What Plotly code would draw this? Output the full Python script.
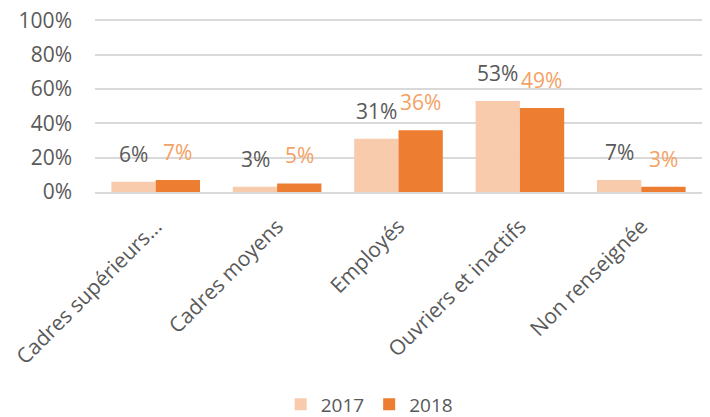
import plotly.graph_objects as go

categories = ["Cadres supérieurs...", "Cadres moyens", "Employés", "Ouvriers et inactifs", "Non renseignée"]
values_2017 = [0.06, 0.03, 0.31, 0.53, 0.07]
values_2018 = [0.07, 0.05, 0.36, 0.49, 0.03]
labels_2017 = ["6%", "3%", "31%", "53%", "7%"]
labels_2018 = ["7%", "5%", "36%", "49%", "3%"]
y_ticks = [0, 0.2, 0.4, 0.6, 0.8, 1.0]
y_tick_labels = ["0%", "20%", "40%", "60%", "80%", "100%"]

FONT = "Open Sans"
GREY = "#595959"

fig = go.Figure()
fig.add_trace(go.Bar(x=categories, y=values_2017, name="2017",
                     marker=dict(color="#F8CBAD", line=dict(width=0))))
fig.add_trace(go.Bar(x=categories, y=values_2018, name="2018",
                     marker=dict(color="#ED7D31", line=dict(width=0))))

for c, v, t in zip(categories, values_2017, labels_2017):
    fig.add_annotation(x=c, y=v, text=t, showarrow=False, xref="x", yref="y",
                       xshift=-22, yshift=28, font=dict(family=FONT, size=21, color=GREY))
for c, v, t in zip(categories, values_2018, labels_2018):
    fig.add_annotation(x=c, y=v, text=t, showarrow=False, xref="x", yref="y",
                       xshift=22, yshift=28, font=dict(family=FONT, size=21, color="#F4A164"))

fig.update_layout(
    width=710, height=417,
    margin=dict(l=95, r=8, t=17, b=225),
    paper_bgcolor="white", plot_bgcolor="white",
    barmode="group", bargap=0.27, bargroupgap=0,
    font=dict(family=FONT, size=19, color=GREY),
    showlegend=True,
    legend=dict(orientation="h", xref="container", yref="container",
                x=0.52, xanchor="center", y=0.03, yanchor="middle",
                font=dict(family=FONT, size=19, color=GREY), itemwidth=30,
                traceorder="normal"),
)
fig.update_yaxes(range=[0, 1.02], tickvals=y_ticks, ticktext=y_tick_labels,
                 showgrid=True, gridcolor="#D9D9D9", gridwidth=1.5, automargin=False,
                 zeroline=False, showline=False, ticks="", ticklabelstandoff=22,
                 ticklabeloverflow="allow",
                 tickfont=dict(family=FONT, size=21, color=GREY))
fig.update_xaxes(tickangle=-45, showline=True, linecolor="#D9D9D9", linewidth=1.5,
                 ticks="", automargin=False, ticklabelstandoff=12,
                 ticklabeloverflow="allow",
                 tickfont=dict(family=FONT, size=21, color=GREY))

fig.write_html("out.html", config={"displayModeBar": False},
               post_script="document.body.style.margin='0';")
